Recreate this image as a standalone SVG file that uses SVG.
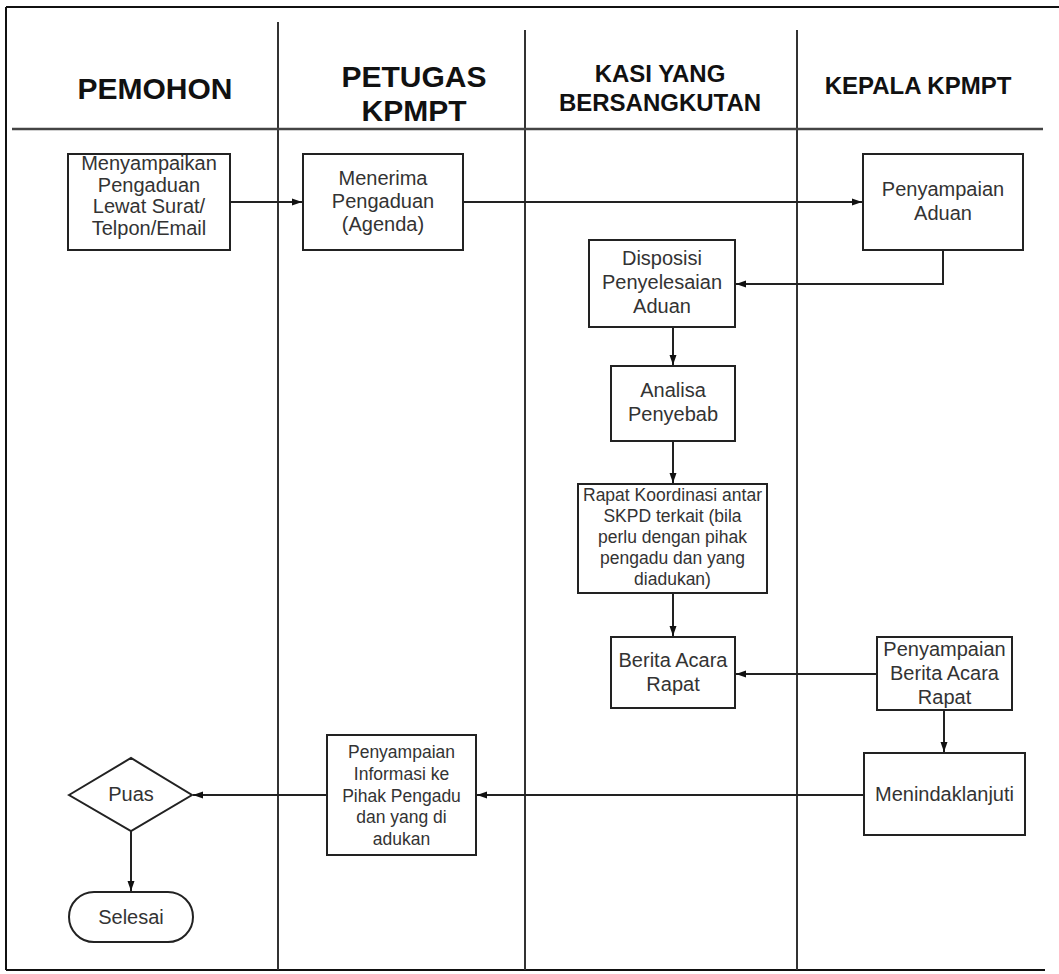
<svg xmlns="http://www.w3.org/2000/svg" width="1059" height="974" viewBox="0 0 1059 974">
<defs>
<marker id="arr" markerUnits="userSpaceOnUse" markerWidth="10" markerHeight="10" viewBox="0 0 10 10" refX="10" refY="5" orient="auto">
<path d="M0,1.5 L10,5 L0,8.5 Z" fill="#111"/>
</marker>
</defs>
<style>
.frame{stroke:#111;stroke-width:2;fill:none}
.lane{stroke:#333;stroke-width:2;fill:none}
.hdr{font-family:"Liberation Sans",Arial,sans-serif;font-weight:bold;fill:#111;text-anchor:middle}
.box{fill:#fff;stroke:#222;stroke-width:2}
.t{font-family:"Liberation Sans",Arial,sans-serif;font-size:20px;fill:#333;text-anchor:middle}
.s{font-size:17.5px}
.conn{stroke:#222;stroke-width:2;fill:none;marker-end:url(#arr)}
</style>
<rect width="1059" height="974" fill="#fff"/>
<g id="frame">
<line class="frame" x1="6" y1="7" x2="1059" y2="7"/>
<line class="frame" x1="6" y1="7" x2="6" y2="970"/>
<line class="frame" x1="6" y1="970" x2="1045" y2="970"/>
<line class="lane" x1="278" y1="22" x2="278" y2="970"/>
<line class="lane" x1="525" y1="30" x2="525" y2="970"/>
<line class="lane" x1="797" y1="30" x2="797" y2="970"/>
<line x1="12" y1="129" x2="1043" y2="129" stroke="#444" stroke-width="2.5"/>
</g>
<g id="headers">
<text class="hdr" x="155" y="99" font-size="30">PEMOHON</text>
<text class="hdr" x="414" y="87" font-size="30">PETUGAS</text>
<text class="hdr" x="414" y="121" font-size="30">KPMPT</text>
<text class="hdr" x="660" y="82" font-size="24">KASI YANG</text>
<text class="hdr" x="660" y="111" font-size="24">BERSANGKUTAN</text>
<text class="hdr" x="918" y="94" font-size="24">KEPALA KPMPT</text>
</g>
<g id="connectors">
<path class="conn" d="M230,202 H302"/>
<path class="conn" d="M463,202 H862"/>
<path class="conn" d="M943,250 V284 H736"/>
<path class="conn" d="M673,327 V365"/>
<path class="conn" d="M673,441 V483"/>
<path class="conn" d="M673,593 V636"/>
<path class="conn" d="M877,674 H736"/>
<path class="conn" d="M944,710 V752"/>
<path class="conn" d="M864,795 H477"/>
<path class="conn" d="M327,795 H193"/>
<path class="conn" d="M131,831 V891"/>
</g>
<g id="n1">
<rect class="box" x="68" y="154" width="162" height="96"/>
<text class="t" x="149" y="170">Menyampaikan</text>
<text class="t" x="149" y="191.5">Pengaduan</text>
<text class="t" x="149" y="213">Lewat Surat/</text>
<text class="t" x="149" y="234.5">Telpon/Email</text>
</g>
<g id="n2">
<rect class="box" x="303" y="154" width="160" height="96"/>
<text class="t" x="383" y="185">Menerima</text>
<text class="t" x="383" y="208">Pengaduan</text>
<text class="t" x="383" y="231">(Agenda)</text>
</g>
<g id="n3">
<rect class="box" x="863" y="154" width="160" height="96"/>
<text class="t" x="943" y="196">Penyampaian</text>
<text class="t" x="943" y="220">Aduan</text>
</g>
<g id="n4">
<rect class="box" x="589" y="240" width="146" height="87"/>
<text class="t" x="662" y="265">Disposisi</text>
<text class="t" x="662" y="289">Penyelesaian</text>
<text class="t" x="662" y="313">Aduan</text>
</g>
<g id="n5">
<rect class="box" x="611" y="366" width="124" height="75"/>
<text class="t" x="673" y="397">Analisa</text>
<text class="t" x="673" y="421">Penyebab</text>
</g>
<g id="n6">
<rect class="box" x="578" y="484" width="189" height="109"/>
<text class="t s" x="672.5" y="501">Rapat Koordinasi antar</text>
<text class="t s" x="672.5" y="522">SKPD terkait (bila</text>
<text class="t s" x="672.5" y="543">perlu dengan pihak</text>
<text class="t s" x="672.5" y="564">pengadu dan yang</text>
<text class="t s" x="672.5" y="585">diadukan)</text>
</g>
<g id="n7">
<rect class="box" x="611" y="637" width="124" height="71"/>
<text class="t" x="673" y="667">Berita Acara</text>
<text class="t" x="673" y="691">Rapat</text>
</g>
<g id="n8">
<rect class="box" x="877" y="637" width="135" height="73"/>
<text class="t" x="944.5" y="656">Penyampaian</text>
<text class="t" x="944.5" y="680">Berita Acara</text>
<text class="t" x="944.5" y="704">Rapat</text>
</g>
<g id="n9">
<rect class="box" x="864" y="753" width="161" height="82"/>
<text class="t" x="944.5" y="801" font-size="21">Menindaklanjuti</text>
</g>
<g id="n10">
<rect class="box" x="327" y="735" width="149" height="120"/>
<text class="t s" x="401.5" y="758">Penyampaian</text>
<text class="t s" x="401.5" y="780">Informasi ke</text>
<text class="t s" x="401.5" y="802">Pihak Pengadu</text>
<text class="t s" x="401.5" y="823">dan yang di</text>
<text class="t s" x="401.5" y="845">adukan</text>
</g>
<g id="n11">
<path class="box" d="M69,795 L131,758 L192,795 L131,831 Z"/>
<text class="t" x="131" y="801">Puas</text>
</g>
<g id="n12">
<rect class="box" x="69" y="892" width="124" height="50" rx="25" ry="25"/>
<text class="t" x="131" y="924">Selesai</text>
</g>
</svg>
